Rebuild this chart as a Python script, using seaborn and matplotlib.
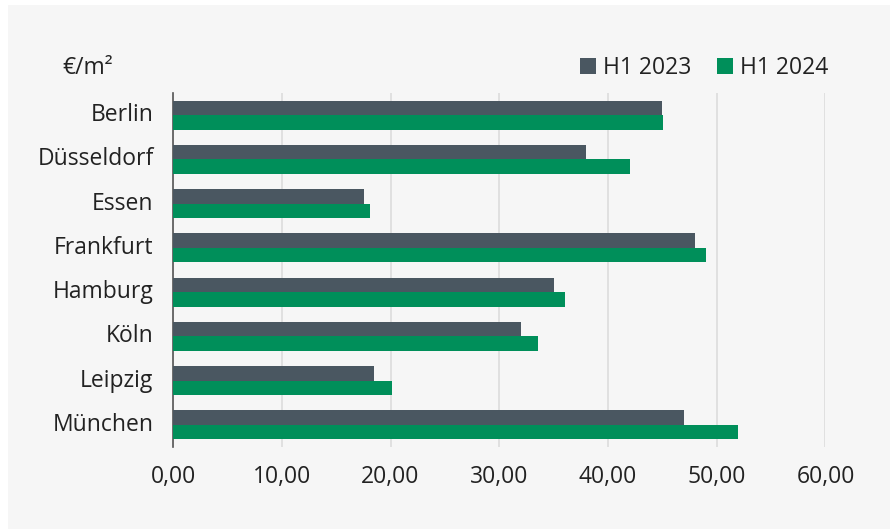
import matplotlib
matplotlib.use("Agg")
import matplotlib.pyplot as plt
import matplotlib.transforms as mtransforms
import seaborn as sns
import pandas as pd
from matplotlib.patches import Rectangle, Patch
from matplotlib.ticker import FuncFormatter, MultipleLocator

cities = ["Berlin", "Düsseldorf", "Essen", "Frankfurt", "Hamburg", "Köln", "Leipzig", "München"]
h1_2023 = [45.0, 38.0, 17.6, 48.0, 35.0, 32.0, 18.5, 47.0]
h1_2024 = [45.1, 42.0, 18.1, 49.0, 36.0, 33.6, 20.1, 52.0]
series = ["H1 2023", "H1 2024"]
colors = ["#4a5761", "#008f5a"]
unit_label = "€/m²"

df = pd.DataFrame({
    "Stadt": cities * 2,
    "Wert": h1_2023 + h1_2024,
    "Periode": [series[0]] * len(cities) + [series[1]] * len(cities),
})

sns.set_theme(style="white")
plt.rcParams["font.family"] = ["Open Sans", "DejaVu Sans"]
text_color = "#222222"
fs = 16.5

fig = plt.figure(figsize=(8.9, 5.29), dpi=100, facecolor="white")
fig.patches.append(Rectangle((8 / 890, 0), 1 - 8 / 890, 1 - 5 / 529,
                             transform=fig.transFigure, facecolor="#f6f6f6",
                             edgecolor="none", zorder=-10))
ax = fig.add_axes([173 / 890, 1 - 447 / 529, (825.5 - 173) / 890, (447 - 93) / 529])
ax.set_facecolor("none")

sns.barplot(data=df, y="Stadt", x="Wert", hue="Periode", palette=colors,
            order=cities, hue_order=series, width=0.66, gap=0, saturation=1,
            orient="h", ax=ax, legend=False, zorder=3, linewidth=0, edgecolor="none")

ax.set_xlim(0, 60)
ax.xaxis.set_major_locator(MultipleLocator(10))
ax.xaxis.set_major_formatter(FuncFormatter(lambda v, p: f"{v:.2f}".replace(".", ",")))
ax.grid(axis="x", color="#dcdcdc", linewidth=1.2, zorder=0)
ax.set_axisbelow(True)
for s in ["top", "right", "bottom"]:
    ax.spines[s].set_visible(False)
ax.spines["left"].set_color("#555555")
ax.spines["left"].set_linewidth(1.2)
ax.set_xlabel("")
ax.set_ylabel("")
ax.tick_params(axis="x", length=0, pad=13, labelsize=fs, labelcolor=text_color)
ax.tick_params(axis="y", length=0, pad=14, labelsize=fs, labelcolor=text_color)
offset = mtransforms.ScaledTranslation(0, 3 / 100, fig.dpi_scale_trans)
for lab in ax.get_yticklabels():
    lab.set_transform(lab.get_transform() + offset)

fig.text(62 / 890, 1 - 68 / 529, unit_label, fontsize=fs, color=text_color,
         ha="left", va="center")

handles = [Patch(facecolor=c, edgecolor="none") for c in colors]
fig.legend(handles, series, loc="center right", bbox_to_anchor=(828 / 890, 1 - 68 / 529),
           ncol=2, frameon=False, fontsize=fs, handlelength=0.7, handleheight=0.7,
           handletextpad=0.3, columnspacing=1.1, labelcolor=text_color,
           borderpad=0, borderaxespad=0)

fig.savefig("out.png", dpi=100, facecolor=fig.get_facecolor())
